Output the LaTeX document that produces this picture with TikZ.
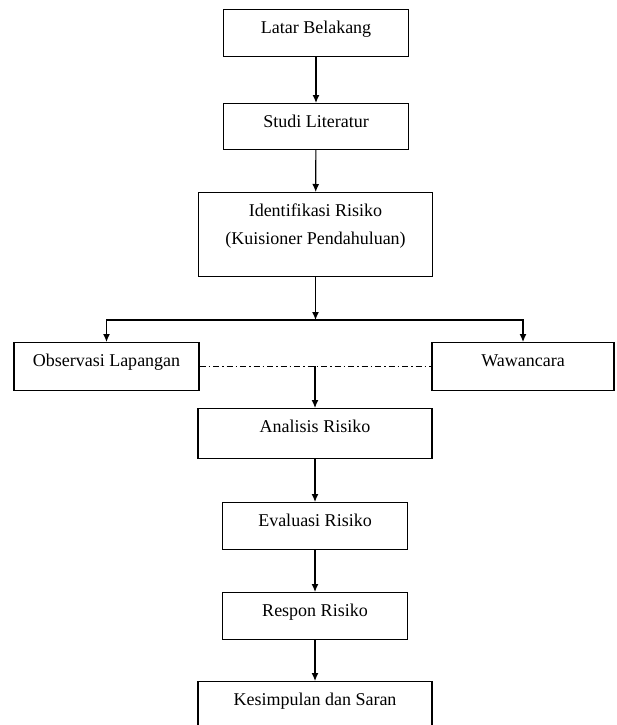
\documentclass[tikz,border=0pt]{standalone}
\usepackage{fontspec}
\setmainfont{Liberation Serif}
\usetikzlibrary{arrows.meta}

\begin{document}
\begin{tikzpicture}[x=1pt, y=-1pt, line width=1.2pt,
    >={Latex[length=8pt,width=7pt]},
    box/.style={draw, anchor=north, minimum width=185pt, inner ysep=4pt,
        text height=20pt, text depth=19pt, align=center,
        font=\fontsize{18}{28}\selectfont},
    widebox/.style={box, minimum width=234pt},
    dashdot/.style={line width=0.8pt, dash pattern=on 6pt off 3pt on 1.5pt off 3pt}]

    \useasboundingbox (0,0) rectangle (616,725);

    \draw(316,9) node[box] (lat) {Latar Belakang};
    \draw(316,103) node[box, text depth=18pt] (stu) {Studi Literatur};
    \draw(315.5,192) node[widebox, text height=48pt, text depth=28pt] (idf) {Identifikasi Risiko\\(Kuisioner Pendahuluan)};

    \draw(106.5,342) node[box, text depth=20pt] (obs) {Observasi Lapangan};
    \draw(523,342) node[box, minimum width=182pt, text depth=20pt] (waw) {Wawancara};

    \draw(315,408) node[widebox, text depth=22pt] (ana) {Analisis Risiko};
    \draw(315,502) node[box] (eva) {Evaluasi Risiko};
    \draw(315,592) node[box] (res) {Respon Risiko};
    \draw(315,681) node[widebox, text depth=22pt] (kes) {Kesimpulan dan Saran};

    \coordinate (split) at (315.5,320);
    \coordinate (mid) at (315,366);

    \draw[->] (lat) -- (stu);
    \draw[->] (stu) -- (idf);
    \draw[->] (idf) -- (split);
    \draw[->] (split) -| (obs);
    \draw[->] (split) -| (waw);
    \draw[dashdot] (obs) -- (waw);
    \draw[->] (mid) -- (ana);
    \draw[->] (ana) -- (eva);
    \draw[->] (eva) -- (res);
    \draw[->] (res) -- (kes);

\end{tikzpicture}
\end{document}
